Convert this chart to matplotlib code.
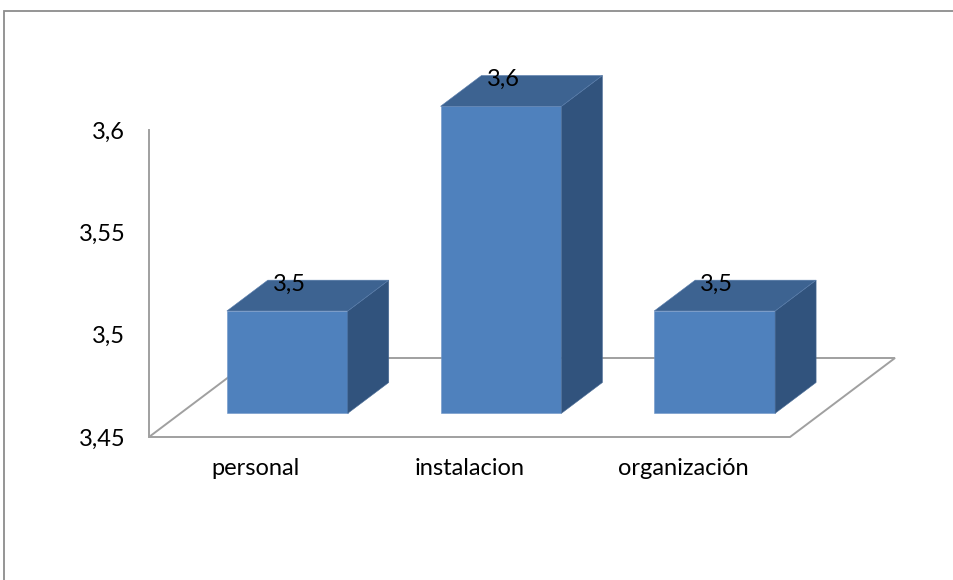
import numpy as np
import matplotlib
matplotlib.use("Agg")
import matplotlib.pyplot as plt
from matplotlib.patches import Polygon, Rectangle

# --- datos ---
categorias = ["personal", "instalacion", "organización"]
valores = np.array([3.5, 3.6, 3.5])
etiquetas = ["3,5", "3,6", "3,5"]
ticks_y = [3.45, 3.5, 3.55, 3.6]
ticks_y_txt = ["3,45", "3,5", "3,55", "3,6"]

# colores tipo Office
c_frente = "#4F81BD"
c_arriba = "#3D6391"
c_lado = "#31537D"
c_gris = "#A0A0A0"

plt.rcParams["font.family"] = ["Lato", "DejaVu Sans"]

fig = plt.figure(figsize=(9.54, 5.8), dpi=100)
W, H = 954, 580

# marco del grafico (cortado a la derecha y abajo)
fig.patches.append(Rectangle((4 / W, -0.1), 1.2, 1 - 11 / H + 0.1,
                             transform=fig.transFigure, fill=False,
                             edgecolor="#8C8C8C", linewidth=1.3))

ax = fig.add_axes([149 / W, (H - 437) / H, 641 / W, 307 / H])
base = ticks_y[0]
ax.set_xlim(-0.5, len(categorias) - 0.5)
ax.set_ylim(base, ticks_y[-1])

# profundidad oblicua (en unidades de datos)
dx = 105 / 641 * len(categorias)
dy = 79 / 307 * (ticks_y[-1] - base)
f1, f2 = 0.30, 0.69
ancho = 0.566

# suelo
x0, x1 = -0.5, len(categorias) - 0.5
suelo = Polygon([(x0, base), (x1, base), (x1 + dx, base + dy), (x0 + dx, base + dy)],
                closed=True, fill=False, edgecolor=c_gris, linewidth=1.4,
                clip_on=False, zorder=1)
ax.add_patch(suelo)

# barras 3D
xs = np.arange(len(categorias))
xf = xs + f1 * dx
bf = base + f1 * dy
ax.bar(xf, valores - base, bottom=bf, width=ancho, color=c_frente,
       edgecolor="#6E95C8", linewidth=0.4, clip_on=False, zorder=3)
ddx = (f2 - f1) * dx
ddy = (f2 - f1) * dy
for x, v in zip(xf, valores):
    xl, xr = x - ancho / 2, x + ancho / 2
    top = v + f1 * dy
    lado = Polygon([(xr, bf), (xr + ddx, bf + ddy), (xr + ddx, top + ddy), (xr, top)],
                   closed=True, facecolor=c_lado, edgecolor="#4A6C96",
                   linewidth=0.4, clip_on=False, zorder=3)
    arriba = Polygon([(xl, top), (xr, top), (xr + ddx, top + ddy), (xl + ddx, top + ddy)],
                     closed=True, facecolor=c_arriba, edgecolor="#5A7EAD",
                     linewidth=0.4, clip_on=False, zorder=3)
    ax.add_patch(lado)
    ax.add_patch(arriba)

# etiquetas de datos
for x, v, t in zip(xf, valores, etiquetas):
    ax.text(x + 0.01, v + f2 * dy - 0.002, t, ha="center", va="center",
            fontsize=17, color="black", zorder=5, clip_on=False)

# ejes
for s in ["top", "right", "bottom"]:
    ax.spines[s].set_visible(False)
ax.spines["left"].set_color(c_gris)
ax.spines["left"].set_linewidth(1.4)
ax.set_yticks(ticks_y)
ax.set_yticklabels(ticks_y_txt, fontsize=17)
ax.set_xticks(xs)
ax.set_xticklabels(categorias, fontsize=17)
ax.tick_params(axis="y", length=0, pad=17)
ax.tick_params(axis="x", length=0, pad=15)
ax.patch.set_visible(False)

fig.savefig("out.png", dpi=100)
